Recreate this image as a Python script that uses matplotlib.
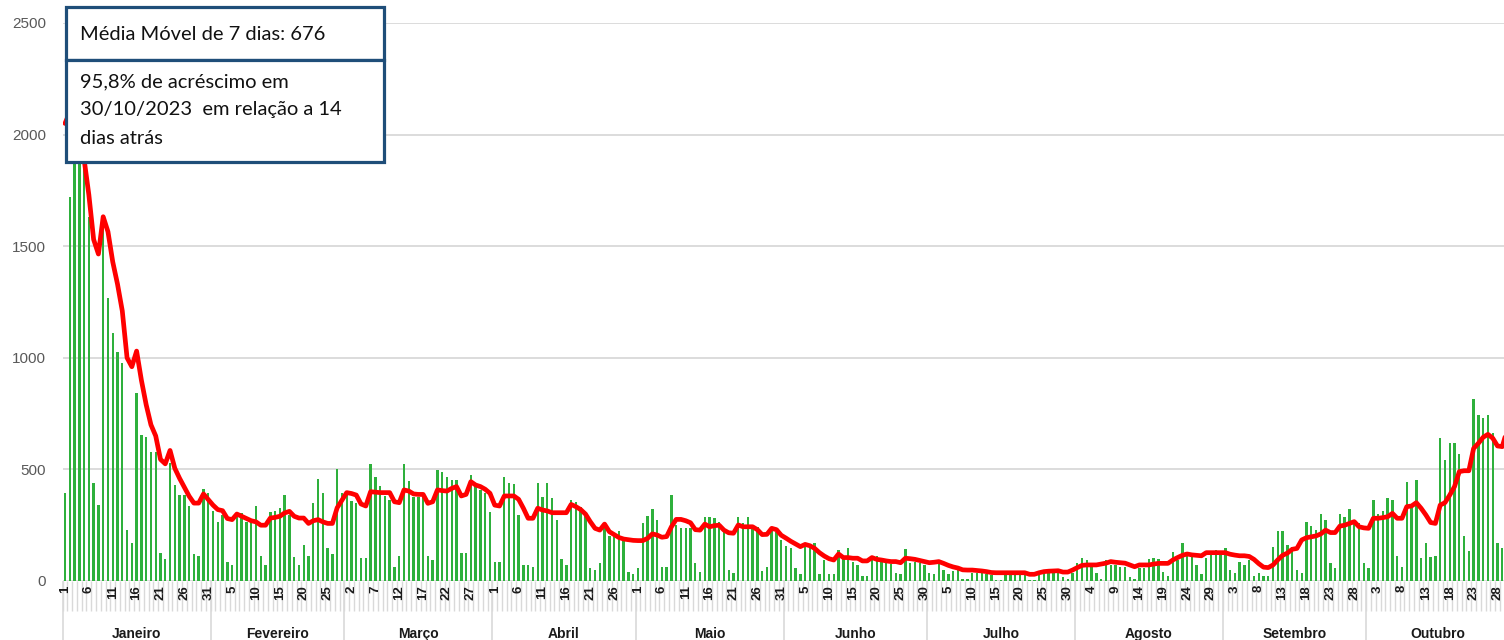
import matplotlib
matplotlib.use('Agg')
import matplotlib.pyplot as plt
from matplotlib.patches import Rectangle
import numpy as np

meses = ['Janeiro', 'Fevereiro', 'Março', 'Abril', 'Maio', 'Junho',
         'Julho', 'Agosto', 'Setembro', 'Outubro']
dias_no_mes = [31, 28, 31, 30, 31, 30, 31, 31, 30, 30]

casos_jan = [396, 1722, 2050, 2200, 1950, 1632, 439, 340, 1630, 1267, 1110, 1027, 978, 228, 170,
             842, 654, 647, 579, 579, 125, 98, 528, 430, 385, 385, 336, 121, 112, 412, 394]
casos_fev = [314, 266, 296, 87, 72, 303, 303, 266, 276, 336, 112, 72, 310, 314, 326, 385, 296,
             109, 72, 161, 112, 349, 455, 396, 146, 121, 502, 396]
casos_mar = [392, 360, 350, 105, 105, 523, 467, 426, 381, 363, 64, 112, 523, 448, 378, 378, 378,
             112, 93, 497, 490, 467, 452, 452, 127, 127, 475, 426, 408, 393, 308]
casos_abr = [85, 85, 467, 438, 433, 296, 72, 72, 64, 441, 378, 441, 370, 273, 99, 72, 363, 355,
             333, 303, 57, 49, 79, 243, 203, 214, 224, 191, 42, 30]
casos_mai = [57, 258, 293, 321, 273, 64, 64, 385, 251, 236, 236, 236, 79, 42, 288, 288, 281, 266,
             226, 49, 37, 288, 258, 288, 243, 243, 45, 64, 236, 221, 184]
casos_jun = [157, 146, 57, 31, 154, 146, 169, 31, 94, 31, 31, 139, 112, 146, 87, 72, 22, 22, 109,
             112, 102, 82, 76, 37, 31, 142, 79, 87, 79, 72]
casos_jul = [37, 30, 79, 49, 30, 45, 52, 9, 9, 37, 37, 34, 30, 27, 4, 4, 27, 37, 37, 37, 37, 4, 4,
             30, 37, 45, 42, 37, 19, 9, 37]
casos_ago = [79, 105, 94, 79, 37, 9, 94, 72, 72, 64, 64, 16, 9, 57, 57, 97, 105, 97, 42, 22, 131,
             94, 169, 112, 109, 72, 30, 105, 124, 139, 131]
casos_set = [146, 49, 34, 87, 72, 94, 22, 37, 22, 22, 154, 224, 224, 161, 154, 49, 37, 266, 246,
             228, 299, 273, 79, 57, 299, 288, 323, 261, 261, 79]
casos_out = [57, 363, 299, 314, 370, 363, 112, 64, 445, 326, 452, 105, 169, 109, 112, 639, 542,
             620, 620, 569, 203, 134, 814, 744, 729, 744, 662, 169, 146, 700]

mm_jan = [2050, 2100, 2050, 1980, 1890, 1730, 1530, 1465, 1632, 1565, 1430, 1330, 1210, 1000, 960,
          1030, 900, 790, 700, 650, 545, 525, 585, 505, 460, 420, 380, 349, 349, 390, 365]
mm_fev = [340, 320, 315, 280, 275, 300, 290, 280, 270, 265, 250, 250, 282, 285, 290, 305, 312,
          290, 282, 282, 258, 270, 275, 265, 258, 258, 328, 362]
mm_mar = [396, 392, 385, 345, 336, 400, 398, 396, 396, 396, 355, 351, 408, 403, 390, 388, 388,
          348, 355, 408, 405, 403, 415, 423, 381, 388, 445, 430, 423, 411, 393]
mm_abr = [340, 336, 381, 381, 381, 366, 326, 281, 281, 326, 318, 314, 306, 306, 306, 306, 343,
          333, 320, 300, 266, 236, 228, 255, 221, 208, 195, 188, 185, 182]
mm_mai = [181, 181, 191, 211, 206, 196, 199, 243, 276, 276, 270, 261, 230, 228, 255, 243, 248,
          250, 228, 216, 214, 251, 243, 243, 243, 230, 208, 209, 236, 230, 205]
mm_jun = [192, 178, 166, 154, 164, 158, 146, 127, 112, 100, 94, 121, 105, 105, 102, 102, 90, 90,
          105, 97, 94, 90, 87, 87, 82, 102, 100, 97, 92, 87]
mm_jul = [82, 84, 87, 79, 70, 63, 58, 50, 49, 49, 47, 45, 42, 38, 37, 37, 37, 37, 37, 37, 37, 30,
          30, 37, 42, 44, 45, 46, 40, 40, 49]
mm_ago = [60, 70, 72, 72, 72, 76, 80, 87, 84, 82, 80, 72, 64, 72, 72, 72, 76, 79, 79, 79, 94, 105,
          115, 121, 117, 115, 113, 127, 127, 127, 127]
mm_set = [127, 120, 116, 113, 113, 110, 97, 78, 62, 60, 72, 95, 115, 125, 142, 146, 184, 194, 198,
          202, 211, 228, 217, 217, 246, 250, 258, 266, 243, 238]
mm_out = [236, 281, 281, 284, 288, 303, 281, 281, 333, 336, 351, 326, 296, 262, 258, 340, 351,
          385, 423, 490, 494, 494, 594, 617, 644, 657, 640, 605, 602, 676]

texto_mm = 'Média Móvel de 7 dias: 676'
texto_var = ['95,8% de acréscimo em', '30/10/2023  em relação a 14', 'dias atrás']

casos = (casos_jan + casos_fev + casos_mar + casos_abr + casos_mai + casos_jun +
         casos_jul + casos_ago + casos_set + casos_out)
media_movel = (mm_jan + mm_fev + mm_mar + mm_abr + mm_mai + mm_jun +
               mm_jul + mm_ago + mm_set + mm_out)
n = len(casos)
dia_do_mes = [d for m in dias_no_mes for d in range(1, m + 1)]

W, H = 1504, 640
fig = plt.figure(figsize=(W / 100, H / 100), dpi=100)
step = 4.775
ax = fig.add_axes([62.6 / W, 59 / H, n * step / W, 558 / H])

x = np.arange(1, n + 1)
ax.bar(x, casos, width=0.5, color='#2eb03c', zorder=2, linewidth=0)
ax.plot(x, media_movel, color='#ff0000', lw=3.4, zorder=3,
        solid_joinstyle='round', solid_capstyle='round')

ax.set_xlim(0.5, n + 0.5)
ax.set_ylim(0, 2500)
ax.set_yticks(range(0, 2501, 500))
ax.yaxis.grid(True, color='#d9d9d9', lw=1.3)
ax.set_axisbelow(True)
for s in ax.spines.values():
    s.set_visible(False)
ax.tick_params(axis='y', length=0, pad=12, labelsize=11, labelcolor='#595959')
for lab in ax.get_yticklabels():
    lab.set_fontfamily(['Liberation Sans', 'DejaVu Sans'])

ticks = x[::5]
ax.set_xticks(ticks)
ax.set_xticklabels([str(dia_do_mes[t - 1]) for t in ticks], rotation=90,
                   fontsize=9.5, fontweight='bold', color='#1a1a1a',
                   family=['Liberation Sans', 'DejaVu Sans'])
ax.tick_params(axis='x', length=0, pad=3)

trans = ax.get_xaxis_transform()
ax.vlines(np.arange(0.5, n + 1.0, 1.0), 0, -30 / 558, transform=trans,
          color='#d9d9d9', lw=1.0, clip_on=False, zorder=0)
limites = np.concatenate([[0], np.cumsum(dias_no_mes)]) + 0.5
ax.vlines(limites, 0, -62 / 558, transform=trans, color='#d9d9d9', lw=1.2,
          clip_on=False, zorder=0)
for i, mes in enumerate(meses):
    centro = (limites[i] + limites[i + 1]) / 2
    ax.text(centro, (581 - 638) / 558, mes, transform=trans, ha='center',
            va='baseline', fontsize=10, fontweight='bold', color='#1a1a1a',
            family=['Liberation Sans', 'DejaVu Sans'], clip_on=False)

# annotation boxes
cor_borda = '#1f4e79'
def px_rect(x0, y0, x1, y1):
    return Rectangle((x0 / W, 1 - y1 / H), (x1 - x0) / W, (y1 - y0) / H,
                     transform=fig.transFigure, facecolor='white',
                     edgecolor=cor_borda, lw=2.3, zorder=10)
fig.add_artist(px_rect(66, 7, 384, 60))
fig.add_artist(px_rect(66, 60, 384, 162))
fig.text(80 / W, 1 - 35 / H, texto_mm, ha='left', va='center', fontsize=14.5,
         family=['Lato', 'DejaVu Sans'], color='#111111', zorder=11)
for k, linha in enumerate(texto_var):
    fig.text(80 / W, 1 - (82 + 28 * k) / H, linha, ha='left', va='center', fontsize=14.5,
             family=['Lato', 'DejaVu Sans'], color='#111111', zorder=11)

fig.savefig('out.png', dpi=100)
